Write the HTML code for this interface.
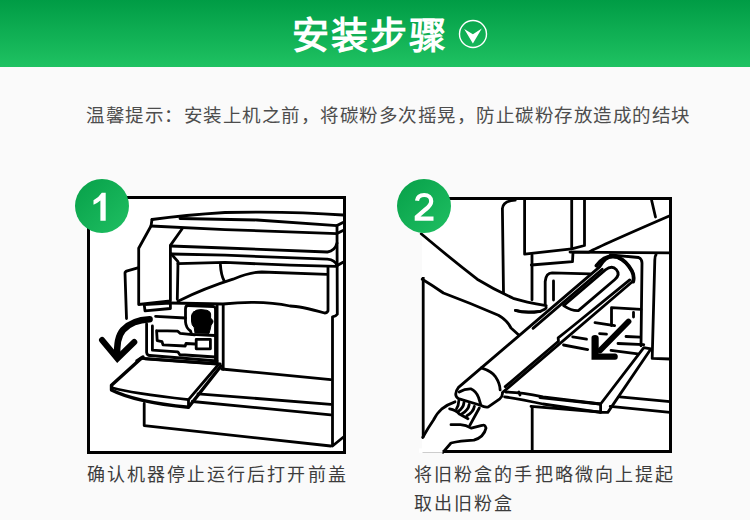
<!DOCTYPE html>
<html lang="zh-CN"><head><meta charset="utf-8">
<style>
html,body{margin:0;padding:0;}
body{width:750px;height:520px;overflow:hidden;background:#fafafa;font-family:"Liberation Sans",sans-serif;position:relative;}
.hdr{position:absolute;left:0;top:0;width:750px;height:67px;background:linear-gradient(#009c45,#1fc262);}
.title{position:absolute;left:292px;top:15px;font-size:37px;font-weight:bold;color:#fff;letter-spacing:2.1px;line-height:44px;white-space:nowrap;}
.tip{position:absolute;left:86px;top:102px;font-size:18.5px;letter-spacing:0.5px;color:#4d4d4d;line-height:28px;white-space:nowrap;}
.box{position:absolute;background:#fff;border:3px solid #000;box-sizing:border-box;}
.cap{position:absolute;font-size:18px;letter-spacing:2.1px;color:#3d3d3d;line-height:29.1px;white-space:nowrap;}
svg{position:absolute;left:0;top:0;}
</style></head><body>
<div class="hdr"></div>
<div class="title">安装步骤</div>
<svg width="750" height="70" style="left:0;top:0">
<circle cx="473" cy="34" r="13.5" fill="none" stroke="#fff" stroke-width="1.4"/>
<path d="M464.2 29 L472.9 34.2 L481.8 28.5 L472.9 43.4 Z" fill="#fff"/>
</svg>
<div class="tip">温馨提示：安装上机之前，将碳粉多次摇晃，防止碳粉存放造成的结块</div>

<div class="box" style="left:87px;top:196px;width:259px;height:258px"></div>
<div class="box" style="left:421.5px;top:197px;width:250.5px;height:255.7px;border-left-color:transparent"></div>

<!--ILL1--><svg width="750" height="520" style="left:0;top:0" fill="none" stroke="#000" stroke-width="2.8" stroke-linecap="round" stroke-linejoin="round">
<!-- lid -->
<path d="M152,219.5 Q185,215 225,212.5 Q290,211 343,215"/>
<path d="M180,218.5 L257,220 L337,225.6 L343,222.4"/>
<path d="M151,226 L225,229.6 L337,233.6 L343,230.5"/>
<path d="M152,219.5 L151,226 L138.7,248.3 L138.7,304.5 L170.4,300.8 L170.4,245.4 L182,229"/>
<path d="M170.4,246 L225,248 L327.4,252 Q335,251 337,243.2"/>
<path d="M171.3,254 L225,255.2 L327.4,259.2 Q335,260 337,265.6"/>
<path d="M171.3,254 L178,261.7 L177.3,299.3"/>
<path d="M178,263.7 L225,262.4 L290,265.2 L336,266.3 L343,262.3"/>
<path d="M337,225.6 L337.3,314.2 Q336,316 332.5,316.8 L332.5,446 L343.5,437"/>
<path d="M220.4,264.6 Q221,275 224.2,281"/>
<path d="M178,301.2 Q205,288 233,279.2 Q250,272 261.8,272 L327.4,274.4"/>
<path d="M328,267 L328,310.8 Q327,313 324.6,313 Q300,306 290,306 Q260,300 223,304 L170,303"/>
<!-- side panel -->
<path d="M138.7,267.7 L127.3,270.8 Q125,271.5 125,273 L126.5,318.5"/>
<path d="M144.2,304.6 L170.4,303 L170.4,308.5 L145,310.8 Z"/>
<!-- arrow -->
<path d="M149.6,319.2 Q132,320 123,330 Q116,338 117.4,357" stroke-width="6.5" stroke-linecap="round"/>
<path d="M102,340 L117.4,358.5 L134.3,342" stroke-width="6" stroke-linecap="round" stroke-linejoin="miter"/>
<!-- cartridge area -->
<path d="M155.6,316.3 L185.5,318"/>
<path d="M188,305.5 L213.5,306.5 Q215.5,307 215.5,309.5 L215.5,361"/>
<path d="M185.5,309 Q185.5,305.5 188,305.5 M185.5,309 L185.5,322 Q186,328 190.5,331 L191.6,334.3 L215,335.5"/>
<path d="M146.6,323.8 L146.6,352.3 Q147,355.5 150,355.5 L217,361"/>
<path d="M152.4,325.9 L152.4,350.2 L177.8,351.8 L180,355 L185,355 L215,357"/>
<path d="M156.6,330.6 L177.8,331.2 L180,333.3 L194.7,334.9 M156.6,330.6 L157.2,340.7 L162,341.7 L163,344.9 L185.2,346 L186,343.5 L195,344"/>
<path d="M196.2,339.4 L196.2,348.8 L210.4,348.8 L210.4,339.4 Z"/>
<path d="M145,358.7 L217,364" stroke-width="3"/>
<path d="M217.1,304.5 L217.1,363 M223.2,304.5 L223.2,369.3"/>
<path d="M193.5,312 Q196,309.5 201,309.6 L207,310.3 Q210.5,311.5 210.6,314 L210.6,318 Q213.5,320.5 213,322 L211,325.5 L210,330 L209,333.4 L195,333 L194.2,327.5 Q191.5,325 191.5,321 L191.5,316 Q191.8,313.5 193.5,312 Z" fill="#000" stroke-width="1"/>
<!-- door -->
<path d="M141.3,358.3 L220.2,364"/>
<path d="M141.3,358.3 L111.5,385.2 L111.5,390 Q135,402 188.5,407.3 L221,366" stroke-width="3.4"/>
<path d="M137,361 L143,357" stroke-width="3.4"/>
<path d="M113,388 Q130,393 188.5,399.6 L218.5,364.5"/>
<path d="M188.5,399.6 L188.5,407.3"/>
<path d="M221.7,369 L330.7,379.7"/>
<path d="M198,393.8 L330.7,404.4"/>
<path d="M192.3,401.5 L330.7,414.8"/>
<path d="M144.2,403.5 L144.2,425.6 L330.7,446"/>
</svg>
<!--/ILL1-->
<!--ILL2--><svg width="750" height="520" style="left:0;top:0" fill="none" stroke="#000" stroke-width="2.8" stroke-linecap="round" stroke-linejoin="round">
<!-- printer body top -->
<path d="M503.5,293 L502.4,208.5 Q503,201 515.2,200.1"/>
<path d="M524.6,199 L524.6,254.2 L571.7,248.8 L571.7,199"/>
<path d="M571.7,248.8 L584.5,245.5 L584.5,199"/>
<path d="M532,255 L532,299.8"/>
<path d="M531.3,265 L572.5,261.7 L573,252.2 L589,252 Q600,246 669.8,215.8"/>
<path d="M651.6,200.2 L655.5,217"/>
<path d="M570,252.1 L670,252.8" stroke-width="2.8"/>
<path d="M656,254.8 Q654.8,256 654.8,260 L652.2,358.4 L670,359"/>
<path d="M610.4,254.8 L638.6,257.5 Q642,259 642,263 L641,345.8"/>
<path d="M611.5,307.7 L641,309.4 M611.5,307.7 L611.5,325.6 M633.5,312.3 L633.5,317"/>
<path d="M545.2,304 L545.2,281.5 Q546,273 552,272.9 L590,273.8"/>
<path d="M553.5,281 L553.5,300"/>
<path d="M563.5,345 L587.7,349.6"/>
<path d="M572.7,336.9 L586.5,339.2"/>
<path d="M595,322.7 L614.6,325.6 M599.6,333.6 L606.5,334.2 M626,336.5 L640,337.2"/>
<path d="M618,343.5 L643.8,344.6 M611,350.4 L637.7,353.8"/>

<!-- arm -->
<path d="M421.2,233.8 Q450,258 477.2,279.2 Q495,290 513.2,298.3 Q525,302 546.2,305.6"/>
<path d="M422.2,279.2 Q432,285 443.4,293 Q470,303 498.4,315.2 Q507,320 511,328 L519.6,335.8"/>
<path d="M515.4,310.4 Q525,313 540.4,311.3"/>
<path d="M423.2,277 L423.2,437.5" stroke-width="2.8" stroke-linecap="butt"/>
<!-- tube -->
<g transform="translate(458.5,387.4) rotate(-40.5)">
<path d="M0,0 L186,0 Q199,-5 205,4 Q210,14 207,26 Q205,31 201.5,32.5 L30,32.5 Q28,35.5 24,35.5 L10,34.2 Q7,33 5.2,27.9 L-7.4,8.5 Q-9,2 0,0 Z" fill="#fff" stroke-width="2.8"/>
<path d="M184,-3 Q199,-6 205.5,4 Q210,13 207.5,24 Q206,30 201.5,33" stroke-width="3.8"/>
<path d="M95,3.5 L186,3.5"/>
<path d="M36,29.8 L106,29.8 L108,27 L121,27.5 L200,29.5"/>
<path d="M30,0 Q36,10 35,16 Q34,24 30,29"/>
<path d="M-2.5,4 Q4,5 8.4,9 Q11,14 8.7,20.7 L5.9,27.1"/>
<path d="M133,6 L188,6 Q196.5,6.5 196.5,13 Q196.5,19.5 189,19.5 L141,19.5 Q136,16 133,6 Z"/>
</g>
<!-- hand on tube -->
<path d="M515.4,310.4 Q525,314 540.4,311.3 Q546,309 546.2,307.5"/>
<!-- hand bottom -->
<path d="M422.7,437.5 Q428,428 433.5,420 Q437,413 441.5,409.2 Q448,404 455,401.8"/>
<path d="M442.9,452.3 L451,443 Q460,441 473.9,440.2 Q484,437 486,428.1 Q485,424 482,425.4 L471.2,428.1 Q466,425 460.4,424.7 L451,424.7"/>
<path d="M479.3,408 L469.8,425.4"/>
<path d="M449.6,408.8 Q456,410 459.4,414 L468,418.7"/>
<path d="M458.8,400.8 Q458.5,406 456.5,408.8 M464,402.5 Q463.5,408 457.7,411.7 M469.2,404.5 Q468.5,410 461.7,414 M474.4,406.3 Q473.5,412 466.9,415.8"/>
<rect x="419" y="448.5" width="23.5" height="4.3" fill="#fff" stroke="none"/>
<!-- door -->
<path d="M505.8,392 Q520,392 543,396.8 L600.6,404 L643.8,347.6 L651,348.8 L607.8,412.4 L600.6,412.4 Q570,408 543,404 Q520,399 504.6,396.8"/>
<path d="M600.6,404 L600.6,412.4"/>
<path d="M518.8,392 L520,395"/>
<!-- arrow -->
<path d="M628.5,321.5 L600,350.5" stroke-width="5.8"/>
<path d="M591.5,337.5 Q591.5,335 595,335 Q598.7,335 598.7,338 L598.7,353.6 L615,353.6 Q617.8,354 617.8,356.6 Q617.8,359.8 615,359.8 L591.5,359.8 Z" fill="#000" stroke="none"/>
<!-- body bottom -->
<path d="M619.8,396.8 L670,401.6"/>
<path d="M610.2,406.4 L670,412.4"/>
<path d="M532.2,407.6 L532.2,450"/>
<path d="M531,406.4 L600,412"/>
<path d="M540,397.7 L600,404"/>
</svg>
<!--/ILL2-->
<svg width="750" height="520" style="left:0;top:0">
<defs><linearGradient id="g1" x1="0" y1="0" x2="1" y2="1"><stop offset="0" stop-color="#07a049"/><stop offset="1" stop-color="#1fbf62"/></linearGradient></defs>
<circle cx="102" cy="206" r="27" fill="url(#g1)"/>
<circle cx="424" cy="206" r="27" fill="url(#g1)"/>
<path d="M101.8,192.8 L105.7,192.8 L105.7,220.8 L100.4,220.8 L100.4,200.6 Q97.5,203.2 93.5,204.8 L93.5,200.3 Q98.5,197.8 101.8,192.8 Z" fill="#fff"/>
<path d="M417,200.8 C417.5,196.5 420.5,195 424.2,195 C428.5,195 431.2,197.8 431.2,201.3 C431.2,204.5 429,206.8 425.5,209.5 L416.8,217 L416.8,218.6 L433.5,218.6" fill="none" stroke="#fff" stroke-width="4.2"/>
</svg>


<div class="cap" style="left:86.5px;top:461px">确认机器停止运行后打开前盖</div>
<div class="cap" style="left:414px;top:461px">将旧粉盒的手把略微向上提起<br>取出旧粉盒</div>
</body></html>
